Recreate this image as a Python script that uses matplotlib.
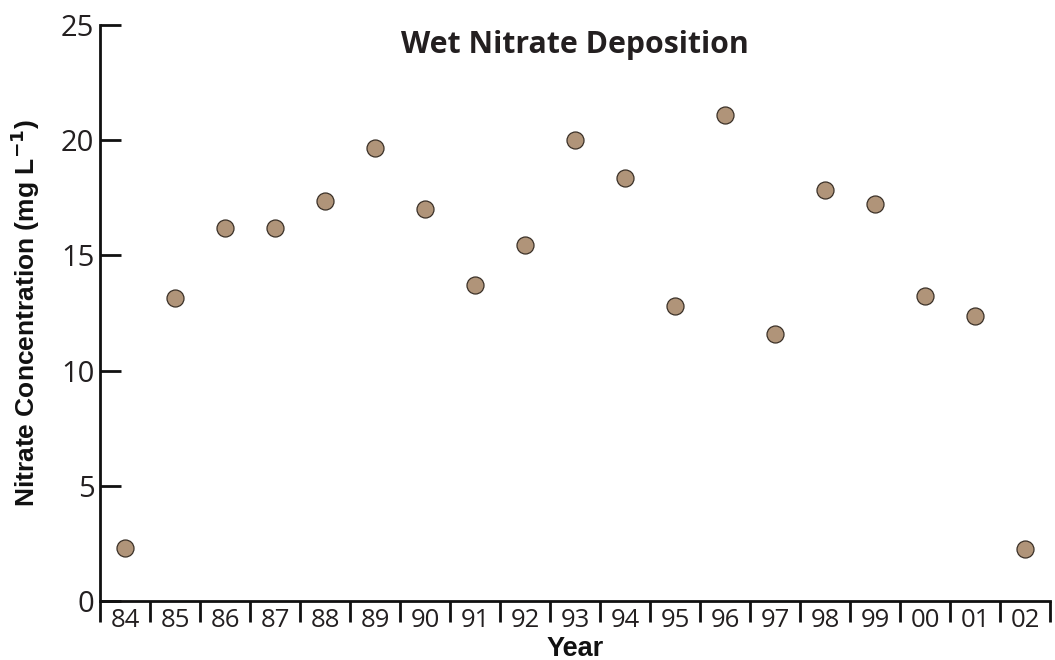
import matplotlib
matplotlib.use("Agg")
import matplotlib.pyplot as plt
import numpy as np

years = ["84", "85", "86", "87", "88", "89", "90", "91", "92", "93",
         "94", "95", "96", "97", "98", "99", "00", "01", "02"]
nitrate = [2.3, 13.15, 16.2, 16.2, 17.35, 19.65, 17.0, 13.7, 15.45, 20.0,
           18.35, 12.8, 21.1, 11.6, 17.85, 17.25, 13.25, 12.35, 2.25]
y_ticks = [0, 5, 10, 15, 20, 25]

fig = plt.figure(figsize=(10.55, 6.6), dpi=100)
ax = fig.add_axes([100/1055, 1-601/660, 950/1055, (601-25)/660])

x = np.arange(len(years))
ax.scatter(x, nitrate, s=150, color="#B09479", edgecolor="#3a3027",
           linewidth=0.9, zorder=3, clip_on=False)

ax.set_xlim(-0.5, len(years) - 0.5)
ax.set_ylim(0, 25)

for s in ["top", "right"]:
    ax.spines[s].set_visible(False)
for s in ["left", "bottom"]:
    ax.spines[s].set_linewidth(2.0)
    ax.spines[s].set_color("#111111")

ax.set_yticks(y_ticks)
ax.set_yticklabels([str(v) for v in y_ticks], fontfamily="Open Sans",
                   fontsize=21, color="#231f20")
ax.tick_params(axis="y", direction="in", length=15, width=2.0,
               pad=4, color="#111111")

ax.set_xticks(np.arange(len(years) + 1) - 0.5)
ax.set_xticklabels([])
ax.tick_params(axis="x", which="major", direction="out", length=15,
               width=2.0, color="#111111")
ax.set_xticks(x, minor=True)
ax.set_xticklabels(years, minor=True, fontfamily="Open Sans",
                   fontsize=18.5, color="#231f20")
ax.tick_params(axis="x", which="minor", length=0, pad=5)

ax.set_title("Wet Nitrate Deposition", fontfamily="Open Sans",
             fontweight="bold", fontsize=21.8, color="#231f20",
             y=0.952, pad=0)
ax.set_ylabel("Nitrate Concentration (mg L$^{\\mathbf{-1}}$)",
              fontfamily="Liberation Sans", fontweight="bold",
              fontsize=19, color="#111111", labelpad=14)
ax.set_xlabel("Year", fontfamily="Liberation Sans", fontweight="bold",
              fontsize=19.5, color="#111111", labelpad=2)

fig.savefig("out.png", dpi=100)
